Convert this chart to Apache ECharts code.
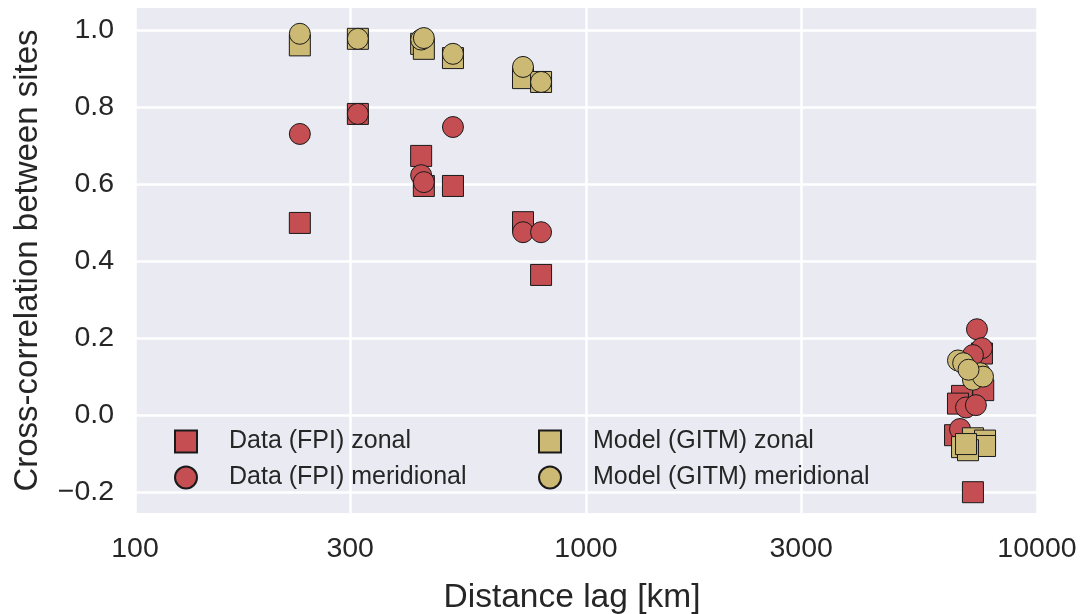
<!DOCTYPE html>
<html>
<head>
<meta charset="utf-8">
<script src="https://cdn.jsdelivr.net/npm/echarts@6/dist/echarts.min.js"></script>
<style>html,body{margin:0;padding:0;background:#fff;}#c{width:1085px;height:614px;}</style>
</head>
<body>
<div id="c"></div>
<script>
// Distance lag [km] and cross-correlation values
const dataZonalX = [232, 312, 431, 437, 507, 725, 795, 7550, 7600, 6820, 6680, 6580, 7210];
const dataZonalY = [0.499, 0.782, 0.673, 0.595, 0.595, 0.501, 0.364, 0.160, 0.065, 0.050, 0.030, -0.052, -0.200];

const dataMeridX = [232, 312, 431, 437, 507, 725, 795, 7360, 7550, 7210, 6960, 7320, 6750];
const dataMeridY = [0.730, 0.782, 0.623, 0.605, 0.748, 0.475, 0.475, 0.223, 0.174, 0.156, 0.020, 0.026, -0.036];

const modelZonalX = [232, 312, 431, 437, 507, 725, 795, 7210, 7670, 6820, 7670, 7030, 6960];
const modelZonalY = [0.960, 0.977, 0.964, 0.951, 0.927, 0.875, 0.865, -0.060, -0.066, -0.083, -0.080, -0.091, -0.075];

const modelMeridX = [232, 312, 431, 437, 507, 725, 795, 6680, 6860, 7480, 7210, 7590, 7050];
const modelMeridY = [0.990, 0.977, 0.975, 0.979, 0.938, 0.904, 0.865, 0.142, 0.135, 0.109, 0.092, 0.100, 0.118];

const xTicks = [100, 300, 1000, 3000, 10000];
const yTicks = [-0.2, 0.0, 0.2, 0.4, 0.6, 0.8, 1.0];

const seriesNames = ['Data (FPI) zonal', 'Data (FPI) meridional', 'Model (GITM) zonal', 'Model (GITM) meridional'];

const RED = '#C44E52', GOLD = '#CCB974';
const FONT = 'Liberation Sans, Arial, sans-serif';
const TXT = '#262626';

function pairs(xs, ys) { return xs.map((x, i) => [x, ys[i]]); }

const chart = echarts.init(document.getElementById('c'), null, {renderer: 'canvas'});

function mkSeries(name, xs, ys, symbol, color, z) {
  return {
    name: name,
    type: 'scatter',
    data: pairs(xs, ys),
    symbol: symbol,
    symbolSize: 21,
    z: z,
    itemStyle: {color: color, borderColor: '#1a1a1a', borderWidth: 1, opacity: 1},
    emphasis: {disabled: true}
  };
}

const legendText = {fontSize: 25, color: TXT, fontFamily: FONT, padding: [0, 0, 0, 27]};

const option = {
  animation: false,
  backgroundColor: '#ffffff',
  textStyle: {fontFamily: FONT, color: TXT},
  grid: {
    left: 135, right: 48, top: 8, bottom: 101,
    outerBoundsMode: 'none', containLabel: false,
    show: true, backgroundColor: '#EAEAF2', borderWidth: 0
  },
  xAxis: {
    type: 'log', logBase: 10, min: 100, max: 10000,
    name: 'Distance lag [km]', nameLocation: 'middle', nameGap: 68,
    nameTextStyle: {fontSize: 33.5, color: TXT, fontFamily: FONT, padding: [0, 28, 0, 0]},
    axisLine: {show: false},
    axisTick: {show: false, customValues: xTicks},
    axisLabel: {customValues: xTicks, fontSize: 28.5, color: TXT, fontFamily: FONT, margin: 22,
      formatter: v => String(Math.round(v))},
    splitLine: {show: true, lineStyle: {color: '#ffffff', width: 2.5}},
    minorSplitLine: {show: false}
  },
  yAxis: {
    type: 'value', min: -0.254, max: 1.057,
    name: 'Cross-correlation between sites', nameLocation: 'middle', nameGap: 91,
    nameTextStyle: {fontSize: 33, color: TXT, fontFamily: FONT},
    axisLine: {show: false},
    axisTick: {show: false, customValues: yTicks},
    axisLabel: {customValues: yTicks, fontSize: 28.5, color: TXT, fontFamily: FONT, margin: 21,
      formatter: v => (v < -1e-9 ? '\u2212' : '') + Math.abs(v).toFixed(1)},
    splitLine: {show: true, lineStyle: {color: '#ffffff', width: 2.5}}
  },
  legend: [
    {
      data: [seriesNames[0], seriesNames[1]],
      orient: 'vertical', left: 169, top: 424,
      itemWidth: 22, itemHeight: 22, itemGap: 11,
      textStyle: legendText,
      selectedMode: false
    },
    {
      data: [seriesNames[2], seriesNames[3]],
      orient: 'vertical', left: 533, top: 424,
      itemWidth: 22, itemHeight: 22, itemGap: 11,
      textStyle: legendText,
      selectedMode: false
    }
  ],
  series: [
    mkSeries(seriesNames[0], dataZonalX, dataZonalY, 'rect', RED, 2),
    mkSeries(seriesNames[1], dataMeridX, dataMeridY, 'circle', RED, 3),
    mkSeries(seriesNames[2], modelZonalX, modelZonalY, 'rect', GOLD, 4),
    mkSeries(seriesNames[3], modelMeridX, modelMeridY, 'circle', GOLD, 5)
  ]
};
chart.setOption(option);
</script>
</body>
</html>
